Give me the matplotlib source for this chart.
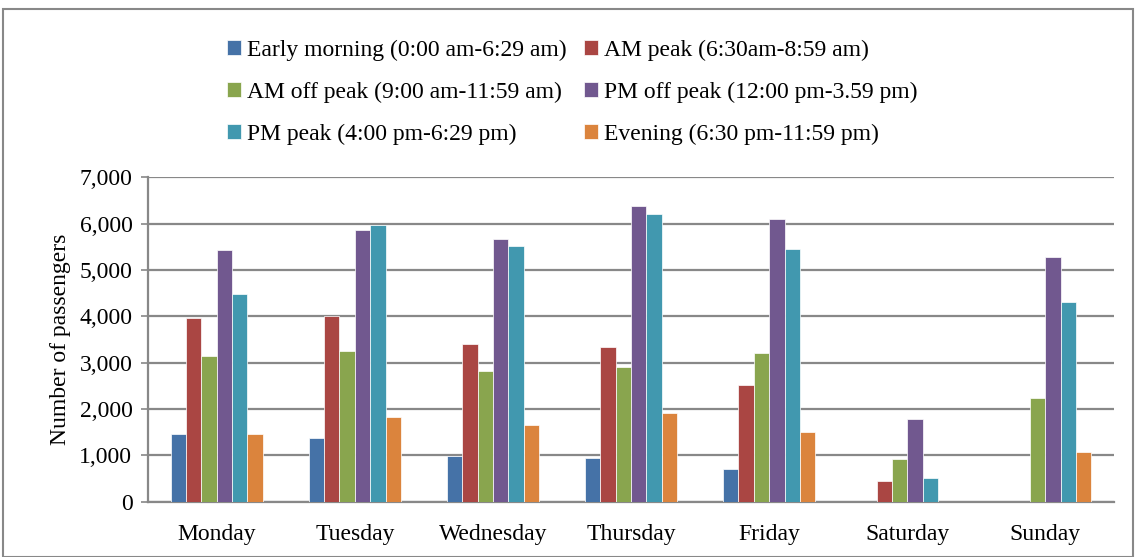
import numpy as np
import matplotlib.pyplot as plt
from matplotlib.patches import Rectangle
from matplotlib.ticker import FuncFormatter

plt.rcParams.update({
    "font.family": "serif",
    "font.serif": ["Liberation Serif", "DejaVu Serif"],
    "font.size": 17,
})

days = ["Monday", "Tuesday", "Wednesday", "Thursday", "Friday", "Saturday", "Sunday"]
periods = ["Early morning (0:00 am-6:29 am)", "AM peak (6:30am-8:59 am)",
           "AM off peak (9:00 am-11:59 am)", "PM off peak (12:00 pm-3.59 pm)",
           "PM peak (4:00 pm-6:29 pm)", "Evening (6:30 pm-11:59 pm)"]

early_morning = [1453, 1367, 993, 950, 698, 0, 0]
am_peak = [3971, 4014, 3410, 3345, 2518, 446, 0]
am_off_peak = [3137, 3245, 2827, 2914, 3201, 921, 2230]
pm_off_peak = [5439, 5856, 5676, 6381, 6094, 1784, 5281]
pm_peak = [4489, 5964, 5518, 6201, 5446, 511, 4309]
evening = [1468, 1827, 1662, 1914, 1496, 0, 1065]

series = [early_morning, am_peak, am_off_peak, pm_off_peak, pm_peak, evening]
colors = ["#4572A7", "#AA4643", "#89A54E", "#71588F", "#4198AF", "#DB843D"]

fig = plt.figure(figsize=(11.36, 5.57), dpi=100)
ax = fig.add_axes([0.130, 0.0993, 0.851, 0.5824])

x = np.arange(len(days))
w = 0.667 / 6
bars = []
for i, (vals, c) in enumerate(zip(series, colors)):
    b = ax.bar(x + (i - 2.5) * w, vals, width=w, color=c,
               edgecolor="white", linewidth=0.5, label=periods[i], zorder=3)
    bars.append(b)

ax.set_xlim(-0.5, len(days) - 0.5)
ax.set_ylim(0, 7000)
ax.set_yticks(np.arange(0, 7001, 1000))
ax.yaxis.set_major_formatter(FuncFormatter(lambda v, p: f"{int(v):,}"))
ax.set_xticks(x)
ax.set_xticklabels(days, fontsize=17)
ax.tick_params(axis="x", length=0, pad=16)
ax.tick_params(axis="y", length=5, width=1.2, color="#888888", direction="out",
               pad=6, labelsize=17)
ax.grid(axis="y", color="#888888", linewidth=1.6, zorder=0)
ax.set_ylabel("Number of passengers", labelpad=6, fontsize=17)

for s in ["top", "right"]:
    ax.spines[s].set_visible(False)
for s in ["left", "bottom"]:
    ax.spines[s].set_color("#888888")
    ax.spines[s].set_linewidth(1.6)

# legend laid out row by row
order = [0, 2, 4, 1, 3, 5]
handles = [bars[i] for i in order]
labels = [periods[i] for i in order]
fig.legend(handles, labels, ncol=2, loc="upper left", bbox_to_anchor=(0.181, 0.967),
           frameon=False, handlelength=0.6, handleheight=0.6, handletextpad=0.25,
           columnspacing=0.72, labelspacing=0.88, fontsize=17)

# outer border
fig.add_artist(Rectangle((0.003, 0.0), 0.994, 0.983, transform=fig.transFigure,
                         fill=False, edgecolor="#888888", linewidth=1.5))

fig.savefig("out.png", dpi=100)
